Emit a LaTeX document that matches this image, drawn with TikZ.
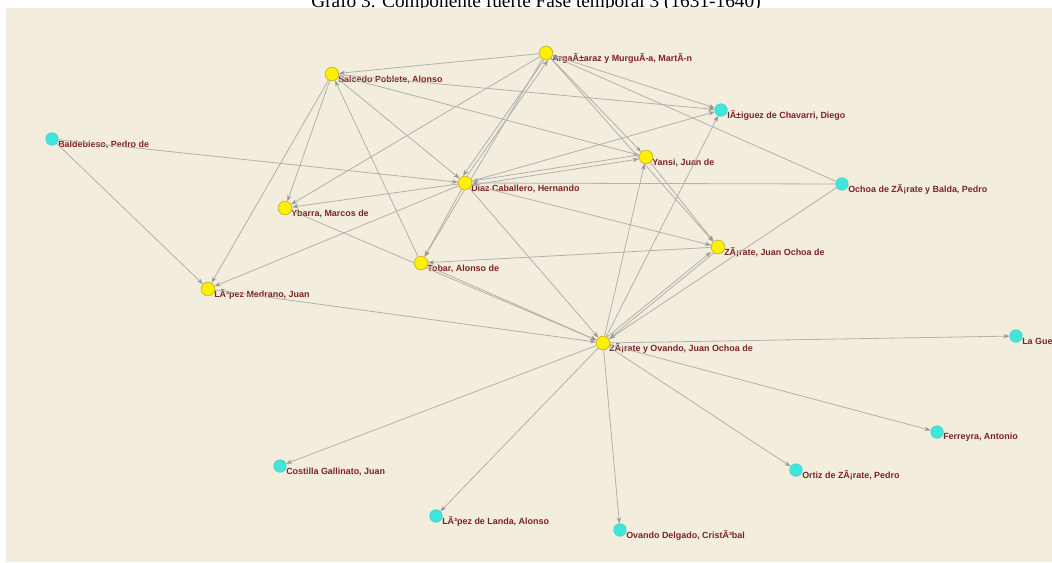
\documentclass[tikz,border=0pt]{standalone}
\usepackage{fontspec}
\setmainfont{Liberation Serif}
\newfontfamily\labfont{Liberation Sans}
\usetikzlibrary{arrows.meta}
\definecolor{panel}{RGB}{243,237,221}
\definecolor{edgec}{RGB}{176,176,176}
\definecolor{arrowc}{RGB}{150,150,150}
\definecolor{ynode}{RGB}{255,240,0}
\definecolor{ydraw}{RGB}{205,185,40}
\definecolor{cnode}{RGB}{62,230,220}
\definecolor{cdraw}{RGB}{60,205,198}
\definecolor{labc}{RGB}{125,35,35}
\pgfdeclarelayer{back}
\pgfdeclarelayer{edgelayer}
\pgfsetlayers{back,edgelayer,main}
\begin{document}
\begin{tikzpicture}[x=0.75pt,y=-0.75pt,
  core/.style={circle,fill=ynode,draw=ydraw,line width=0.6pt,minimum size=10.2pt,inner sep=0pt},
  leaf/.style={circle,fill=cnode,draw=cdraw,line width=0.4pt,minimum size=9.4pt,inner sep=0pt},
  lab/.style={anchor=west,text=labc,font=\labfont\bfseries\fontsize{6.7}{7}\selectfont,inner sep=0pt},
  edge/.style={draw=edgec,line width=0.6pt,-{Stealth[length=4.5pt,width=3.2pt,color=arrowc]}},
  ttl/.style={font=\fontsize{14.5}{16}\selectfont,anchor=base,inner sep=0pt}
]
\useasboundingbox (0,0) rectangle (1052,562);
% nodes
\node[core] (A) at (546,53) {};
\node[core] (S) at (332,74) {};
\node[core] (Y) at (646,157) {};
\node[core] (D) at (465,183) {};
\node[core] (YB) at (285,208) {};
\node[core] (Z) at (718,247) {};
\node[core] (T) at (421,263) {};
\node[core] (LM) at (208,289) {};
\node[core] (ZO) at (603,343) {};
\node[leaf] (I) at (721,110) {};
\node[leaf] (B) at (52,139) {};
\node[leaf] (O) at (842,184) {};
\node[leaf] (LG) at (1016,336) {};
\node[leaf] (F) at (937,432) {};
\node[leaf] (C) at (280,466) {};
\node[leaf] (OZ) at (796,470) {};
\node[leaf] (LL) at (436,516) {};
\node[leaf] (OD) at (620,530) {};
% labels
\begin{pgfonlayer}{edgelayer}
\node[lab] (lA) at ([shift={(6,5.5)}]A.center) {ArgaÃ±araz y MurguÃ-a, MartÃ-n};
\node[lab] (lS) at ([shift={(6,5.5)}]S.center) {Salcedo Poblete, Alonso};
\node[lab] (lY) at ([shift={(6,5.5)}]Y.center) {Yansi, Juan de};
\node[lab] (lD) at ([shift={(6,5.5)}]D.center) {Diaz Caballero, Hernando};
\node[lab] (lYB) at ([shift={(6,5.5)}]YB.center) {Ybarra, Marcos de};
\node[lab] (lZ) at ([shift={(6,5.5)}]Z.center) {ZÃ¡rate, Juan Ochoa de};
\node[lab] (lT) at ([shift={(6,5.5)}]T.center) {Tobar, Alonso de};
\node[lab] (lLM) at ([shift={(6,5.5)}]LM.center) {LÃ³pez Medrano, Juan};
\node[lab] (lZO) at ([shift={(6,5.5)}]ZO.center) {ZÃ¡rate y Ovando, Juan Ochoa de};
\node[lab] (lI) at ([shift={(6,5.5)}]I.center) {IÃ±iguez de Chavarri, Diego};
\node[lab] (lB) at ([shift={(6,5.5)}]B.center) {Baldebieso, Pedro de};
\node[lab] (lO) at ([shift={(6,5.5)}]O.center) {Ochoa de ZÃ¡rate y Balda, Pedro};
\node[lab] (lLG) at ([shift={(6,5.5)}]LG.center) {La Gue};
\node[lab] (lF) at ([shift={(6,5.5)}]F.center) {Ferreyra, Antonio};
\node[lab] (lC) at ([shift={(6,5.5)}]C.center) {Costilla Gallinato, Juan};
\node[lab] (lOZ) at ([shift={(6,5.5)}]OZ.center) {Ortiz de ZÃ¡rate, Pedro};
\node[lab] (lLL) at ([shift={(6,5.5)}]LL.center) {LÃ³pez de Landa, Alonso};
\node[lab] (lOD) at ([shift={(6,5.5)}]OD.center) {Ovando Delgado, CristÃ³bal};
% edges
\path[edge] (A) -- (S);
\path[edge] (S) -- (I);
\path[edge] (S) -- (Y);
\path[edge] (S) -- (D);
\path[edge] (S) -- (YB);
\path[edge] (S) -- (LM);
\path[edge] (T) -- (S);
\path[edge] (A) -- (YB);
\path[edge] ([xshift=-1.5]A.south) -- ([xshift=-1.5]D.north);
\path[edge] ([xshift=1.5]D.north) -- ([xshift=1.5]A.south);
\path[edge] (A) -- (T);
\path[edge] (A) -- (I);
\path[edge] (O) -- (A);
\path[edge] (A) -- (Y);
\path[edge] (A) -- (Z);
\path[edge] (B) -- (D);
\path[edge] (B) -- (LM);
\path[edge] (D) -- (YB);
\path[edge] (D) -- (LM);
\path[edge] (D) -- (T);
\path[edge] (D) -- (Z);
\path[edge] (D) -- (ZO);
\path[edge] ([yshift=-1.5]D.east) -- ([yshift=-1.5]Y.west);
\path[edge] ([yshift=1.5]Y.west) -- ([yshift=1.5]D.east);
\path[edge] (O) -- (D);
\path[edge] (D) -- (I);
\path[edge] (Y) -- (Z);
\path[edge] (ZO) -- (Y);
\path[edge] (ZO) -- (I);
\path[edge] (Z) -- (T);
\path[edge] ([xshift=-1.5]ZO.north east) -- ([xshift=-1.5]Z.south west);
\path[edge] ([xshift=1.5]Z.south west) -- ([xshift=1.5]ZO.north east);
\path[edge] (O) -- (ZO);
\path[edge] (T) -- (ZO);
\path[edge] (YB) -- (ZO);
\path[edge] (LM) -- (ZO);
\path[edge] (ZO) -- (LG);
\path[edge] (ZO) -- (F);
\path[edge] (ZO) -- (OZ);
\path[edge] (ZO) -- (OD);
\path[edge] (ZO) -- (LL);
\path[edge] (ZO) -- (C);
\end{pgfonlayer}
\begin{pgfonlayer}{back}
\node[ttl] (title) at (536,7) {Grafo 3. Componente fuerte Fase temporal 3 (1631-1640)};
\fill[panel] (6,8) rectangle (1052,562);
\end{pgfonlayer}
\end{tikzpicture}
\end{document}
